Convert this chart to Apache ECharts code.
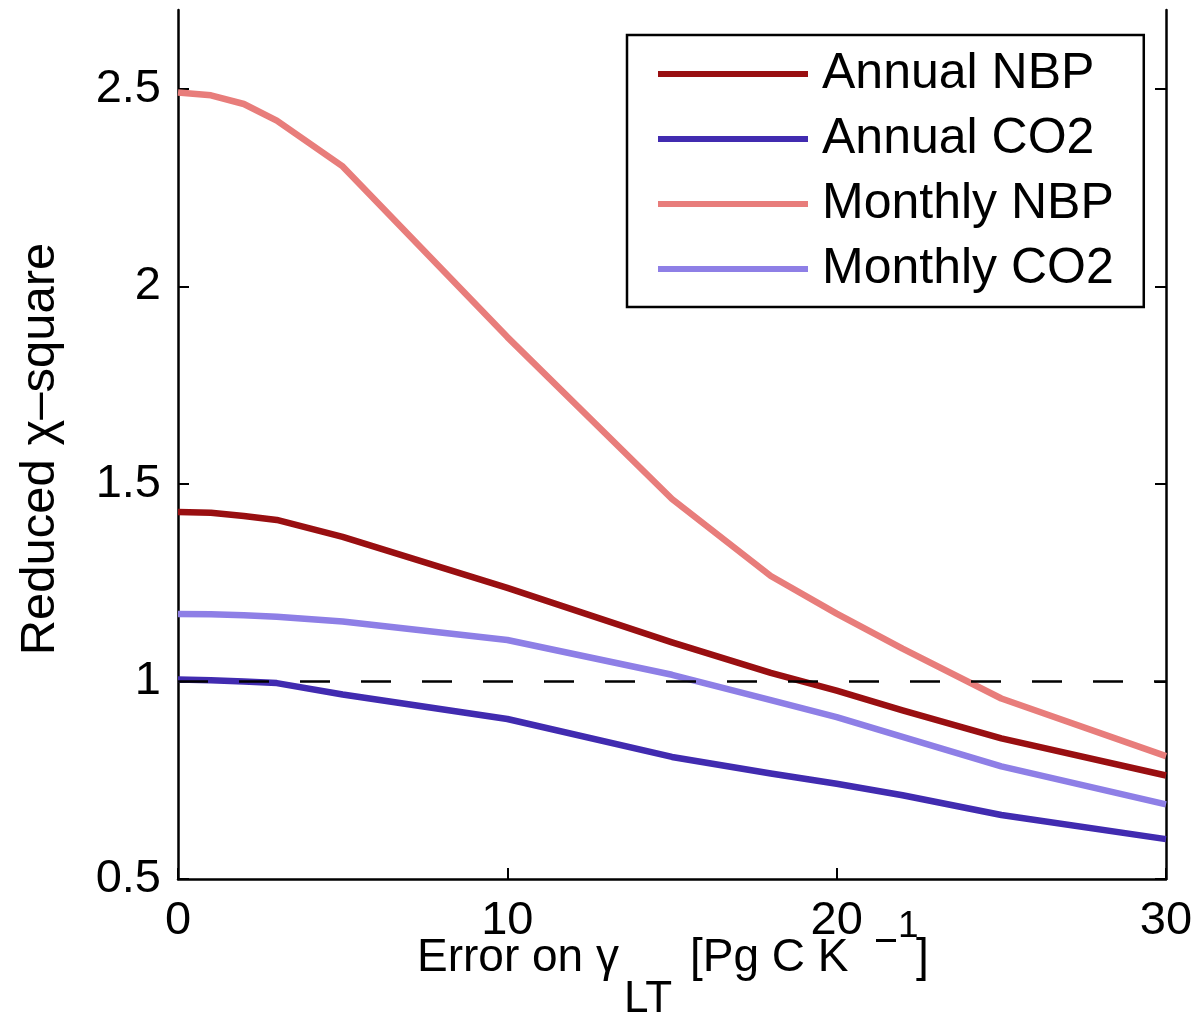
<!DOCTYPE html>
<html>
<head>
<meta charset="utf-8">
<script src="https://cdn.jsdelivr.net/npm/echarts@6/dist/echarts.min.js"></script>
<style>
html,body{margin:0;padding:0;background:#fff;}
#chart{width:1199px;height:1021px;}
</style>
</head>
<body>
<div id="chart"></div>
<script>
// ---- data ----
var xValues = [0, 1, 2, 3, 5, 10, 15, 18, 20, 22, 25, 30];
var annualNBP  = [1.429, 1.427, 1.419, 1.409, 1.366, 1.237, 1.099, 1.022, 0.977, 0.927, 0.856, 0.762];
var annualCO2  = [1.005, 1.003, 1.000, 0.996, 0.967, 0.905, 0.809, 0.767, 0.741, 0.712, 0.662, 0.601];
var monthlyNBP = [2.491, 2.484, 2.462, 2.420, 2.304, 1.872, 1.462, 1.267, 1.172, 1.083, 0.957, 0.811];
var monthlyCO2 = [1.171, 1.170, 1.168, 1.164, 1.152, 1.105, 1.017, 0.953, 0.910, 0.860, 0.785, 0.689];
var refX = [0, 30];
var refY = [1, 1];
var seriesNames = ['Annual NBP', 'Annual CO2', 'Monthly NBP', 'Monthly CO2'];
var seriesColors = ['#990f11', '#412bb0', '#e87d7b', '#8e7fe6'];
var xTicks = [0, 10, 20, 30];
var yTicks = [0.5, 1, 1.5, 2, 2.5];

function pairs(xs, ys){ return xs.map(function(x,i){ return [x, ys[i]]; }); }

var FONT = '"Liberation Sans", Arial, Helvetica, sans-serif';
var chart = echarts.init(document.getElementById('chart'), null, {renderer:'canvas'});

var axisLine = {show:true, lineStyle:{color:'#000', width:2.5}};
function ticksIn(vals){ return {show:true, inside:true, length:11, customValues:vals, lineStyle:{color:'#000', width:2}}; }

var allSeries = [annualNBP, annualCO2, monthlyNBP, monthlyCO2].map(function(vals, i){
  return {
    name: seriesNames[i], type:'line', xAxisIndex:0, yAxisIndex:0,
    data: pairs(xValues, vals), showSymbol:false, symbol:'none',
    lineStyle:{color: seriesColors[i], width:6.5, cap:'butt', join:'round'},
    itemStyle:{color: seriesColors[i]},
    z: 2 + i, animation:false
  };
});
allSeries.push({
  name:'ref', type:'line', data: pairs(refX, refY), showSymbol:false, symbol:'none',
  lineStyle:{color:'#000', width:2.4, type:[30,31]}, z:10, animation:false, silent:true
});

chart.setOption({
  animation:false,
  backgroundColor:'#fff',
  grid:{left:178, right:33, top:10, bottom:142, containLabel:false},
  legend:{
    data: seriesNames, orient:'vertical', left:627, top:35,
    padding:[14, 30, 13, 31], itemGap:15, itemWidth:150, itemHeight:6,
    icon:'rect', borderColor:'#000', borderWidth:2.5, backgroundColor:'#fff',
    textStyle:{fontFamily:FONT, fontSize:50, color:'#000', lineHeight:50, padding:[0,0,0,9]},
    selectedMode:false
  },
  xAxis:[
    {type:'value', min:0, max:30, interval:10, position:'bottom',
     axisLine:axisLine, axisTick:ticksIn(xTicks), splitLine:{show:false},
     axisLabel:{fontFamily:FONT, fontSize:47, color:'#000', margin:19, customValues:xTicks,
       formatter:function(v){ return String(v); }}}
  ],
  yAxis:[
    {type:'value', min:0.5, max:2.7, interval:0.5, position:'left',
     axisLine:axisLine, axisTick:ticksIn(yTicks), splitLine:{show:false},
     axisLabel:{fontFamily:FONT, fontSize:47, color:'#000', margin:17, customValues:yTicks,
       formatter:function(v){ return String(Math.round(v*10)/10); }}},
    {type:'value', min:0.5, max:2.7, interval:0.5, position:'right',
     axisLine:axisLine, axisTick:ticksIn(yTicks), splitLine:{show:false}, axisLabel:{show:false}}
  ],
  series: allSeries,
  graphic:[
    {type:'text', x:40, y:449, rotation:Math.PI/2,
     style:{text:'Reduced χ–square', font:'49px ' + FONT, fill:'#000', align:'center', verticalAlign:'middle'}},
    {type:'text', x:417, y:958,
     style:{text:'Error on γ', font:'46px ' + FONT, fill:'#000', align:'left', verticalAlign:'middle'}},
    {type:'text', x:624, y:1000,
     style:{text:'LT', font:'44px ' + FONT, fill:'#000', align:'left', verticalAlign:'middle'}},
    {type:'text', x:690, y:958,
     style:{text:'[Pg C K', font:'46px ' + FONT, fill:'#000', align:'left', verticalAlign:'middle'}},
    {type:'rect', shape:{x:876, y:939, width:20, height:3}, style:{fill:'#000'}},
    {type:'text', x:898, y:927,
     style:{text:'1', font:'37px ' + FONT, fill:'#000', align:'left', verticalAlign:'middle'}},
    {type:'text', x:916, y:958,
     style:{text:']', font:'46px ' + FONT, fill:'#000', align:'left', verticalAlign:'middle'}}
  ]
});
</script>
</body>
</html>
